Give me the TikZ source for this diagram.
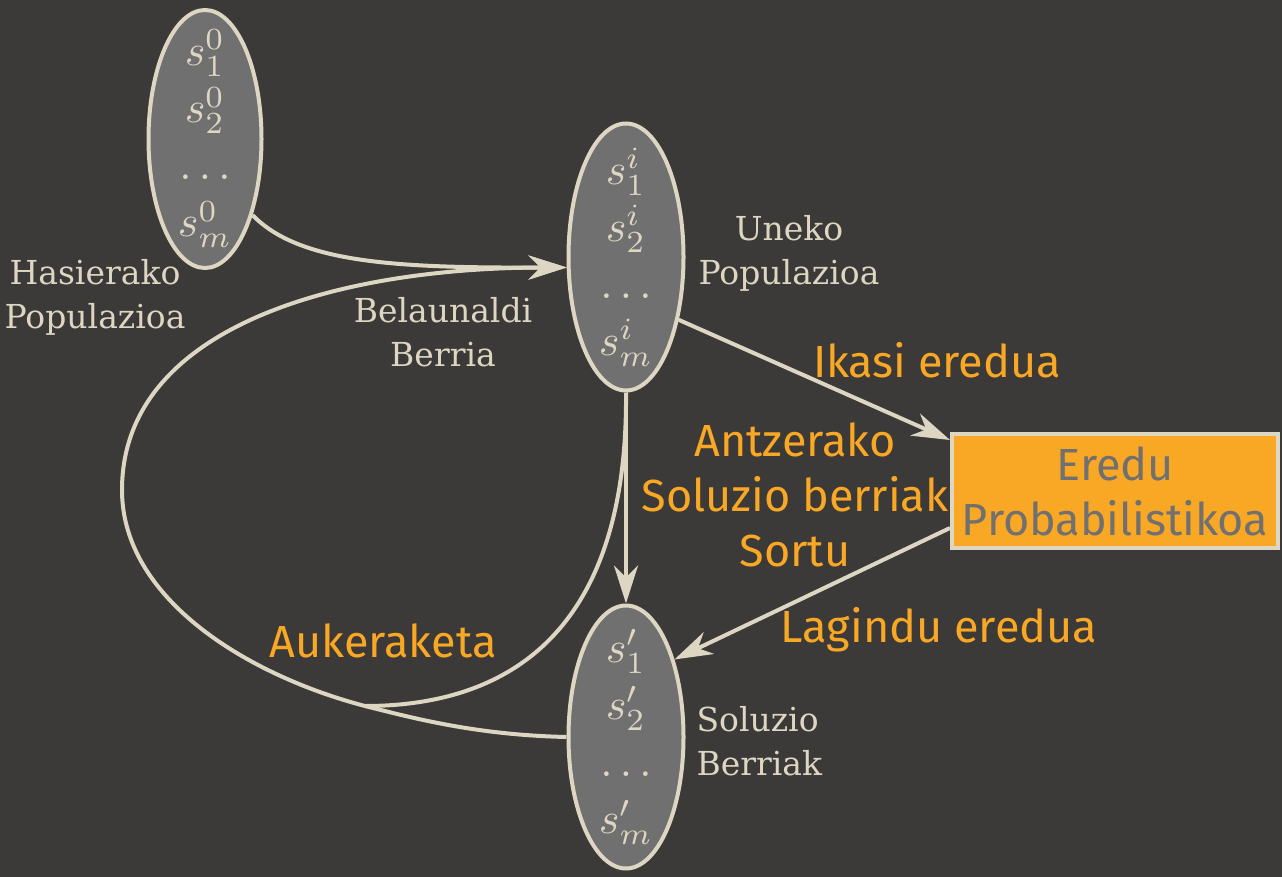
\documentclass[tikz,border=0pt]{standalone}
\usepackage[no-math]{fontspec}
\usepackage{graphicx}
\setmainfont{DejaVu Serif}
\newfontfamily\orfont{Fira Sans}
\usetikzlibrary{shapes.geometric,arrows.meta,calc}
\definecolor{bgdark}{RGB}{60,58,56}
\definecolor{cream}{RGB}{221,214,195}
\definecolor{popgrey}{RGB}{112,112,112}
\definecolor{alertor}{RGB}{249,168,37}
\newcommand{\popel}[1]{\scalebox{4.4}{$#1$}}

\begin{document}
\begin{tikzpicture}[x=1pt,y=-1pt,
    pop/.style={ellipse,draw=cream,fill=popgrey,line width=4pt,inner sep=0pt},
    popset/.style={text=cream,align=center,font=\fontsize{10}{57}\selectfont},
    lbl/.style={text=cream,align=center,font=\fontsize{33}{44}\selectfont},
    oplbl/.style={text=alertor,align=center,font=\orfont\fontsize{45}{55}\selectfont},
    link/.style={draw=cream,line width=4pt},
    flow/.style={link,-{Stealth[length=38pt,width=24pt,inset=12pt]}}]
    \fill[bgdark] (0,0) rectangle (1282,877);
    \useasboundingbox (0,0) rectangle (1282,877);

    \node[pop,minimum width=113pt,minimum height=258pt] (init) at (205,139) {};
    \node[popset] at (init) {\popel{s^0_1}\\\popel{s^0_2}\\\popel{\dots}\\\popel{s^0_m}};
    \node[pop,minimum width=115pt,minimum height=267pt] (cur) at (626,257) {};
    \node[popset] at (cur) {\popel{s^i_1}\\\popel{s^i_2}\\\popel{\dots}\\\popel{s^i_m}};
    \node[pop,minimum width=115pt,minimum height=263pt] (new) at (626,737) {};
    \node[popset] at (new) {\popel{s'_1}\\\popel{s'_2}\\\popel{\dots}\\\popel{s'_m}};
    \node[draw=cream,fill=alertor,line width=4pt,minimum width=326pt,minimum height=114pt,inner sep=0pt,
        text=popgrey,align=center,font=\orfont\fontsize{45}{55}\selectfont] (model) at (1115,491) {Eredu\\Probabilistikoa};

    \node[lbl] (initlbl) at (95,297) {Hasierako\\Populazioa};
    \node[lbl] (curlbl) at (789,253) {Uneko\\Populazioa};
    \node[lbl] (genlbl) at (443,332) {Belaunaldi\\Berria};
    \node[lbl,anchor=west,align=left] (newlbl) at (693,741) {Soluzio\\Berriak};
    \node[oplbl] (learn) at (937,360) {Ikasi eredua};
    \node[oplbl] (gen) at (795,495) {Antzerako\\Soluzio berriak\\Sortu};
    \node[oplbl] (sample) at (939,630) {Lagindu eredua};
    \node[oplbl] (select) at (383,641) {Aukeraketa};

    \coordinate (merge) at (365,706);
    \coordinate (loopw) at (122,490);
    \draw[flow] (init.-58) .. controls (300,264) and (400,268) .. (cur.190);
    \draw[flow] (new.west) .. controls (480,735) and (420,720) .. (merge)
        .. controls (250,676) and (122,600) .. (loopw)
        .. controls (122,330) and (330,268) .. (cur.190);
    \draw[link] (cur.south) .. controls (628,620) and (520,706) .. (merge);
    \draw[flow] (cur.south) -- (new.north);
    \draw[flow] (cur.-50) -- ($(model.north west)+(0,8)$);
    \draw[flow] ($(model.south west)+(0,-22)$) -- (new.58);
\end{tikzpicture}
\end{document}
